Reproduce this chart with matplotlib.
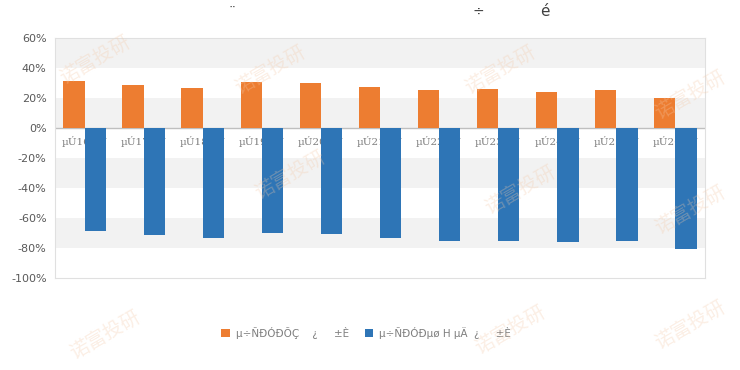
import matplotlib
matplotlib.use("Agg")
import matplotlib.pyplot as plt
import numpy as np

plt.rcParams['font.family'] = ['DejaVu Sans', 'Noto Sans CJK SC']

categories = ["µÚ16ÖÜ", "µÚ17ÖÜ", "µÚ18ÖÜ", "µÚ19ÖÜ", "µÚ20ÖÜ", "µÚ21ÖÜ",
              "µÚ22ÖÜ", "µÚ23ÖÜ", "µÚ24ÖÜ", "µÚ25ÖÜ", "µÚ26ÖÜ"]
series_up = [31.5, 29.0, 26.8, 30.4, 29.7, 27.3, 25.6, 26.2, 24.2, 25.6, 20.0]
series_down = [-68.7, -71.0, -73.6, -69.8, -70.4, -73.6, -75.0, -75.0, -76.0, -75.3, -80.4]
legend_labels = ["µ÷ÑÐÓÐÕÇ    ¿     ±È", "µ÷ÑÐÓÐµø H µÄ  ¿     ±È"]
yticks = [60, 40, 20, 0, -20, -40, -60, -80, -100]
bands = [(40, 60), (0, 20), (-40, -20), (-80, -60)]
watermark = "诺富投研"

fig = plt.figure(figsize=(7.4, 3.7), dpi=100)
ax = fig.add_axes([0.0743, 0.2486, 0.8784, 0.6487])

x = np.arange(len(categories))
w = 0.36
ax.set_xlim(-0.5, len(categories) - 0.5)
ax.set_ylim(-100, 60)

for lo, hi in bands:
    ax.axhspan(lo, hi, color='#f2f2f2', zorder=0, lw=0)

ax.axhline(0, color='#bfbfbf', lw=1.0, zorder=1)

for xi, c in zip(x, categories):
    ax.text(xi, -5, c, ha='center', va='top', fontsize=7.5, color='#7f7f7f',
            family=['DejaVu Serif'], zorder=1.5)

b1 = ax.bar(x - w / 2, series_up, width=w, color='#ed7d31', zorder=2, label=legend_labels[0])
b2 = ax.bar(x + w / 2, series_down, width=w, color='#2e75b6', zorder=2, label=legend_labels[1])

ax.set_yticks(yticks)
ax.set_yticklabels([f"{t}%" for t in yticks], fontsize=8, color='#595959')
ax.set_xticks([])
ax.tick_params(axis='y', length=0, pad=6)
for s in ax.spines.values():
    s.set_color('#e0e0e0')
    s.set_linewidth(0.8)

leg = fig.legend(handles=[b1, b2], loc='center', bbox_to_anchor=(0.495, 0.1),
                 ncol=2, frameon=False, fontsize=7.5, handlelength=0.8, handleheight=0.8,
                 columnspacing=1.5, handletextpad=0.6)
for t in leg.get_texts():
    t.set_color('#7f7f7f')

fig.text(232 / 740, 1 - 14 / 370, "¨", ha='center', va='center', fontsize=10, color='#404040')
fig.text(478 / 740, 1 - 12 / 370, "÷", ha='center', va='center', fontsize=10, color='#404040')
fig.text(545 / 740, 1 - 12 / 370, "é", ha='center', va='center', fontsize=11, color='#404040')

for (px, py) in [(270, 70), (500, 70), (690, 95), (290, 175), (520, 190), (690, 210),
                 (105, 335), (510, 330), (690, 325), (95, 60)]:
    fig.text(px / 740, 1 - py / 370, watermark, ha='center', va='center', fontsize=14,
             color='#f4c9a8', alpha=0.3, rotation=30, family=['Noto Sans CJK SC'],
             zorder=10)

fig.savefig("out.png", dpi=100)
